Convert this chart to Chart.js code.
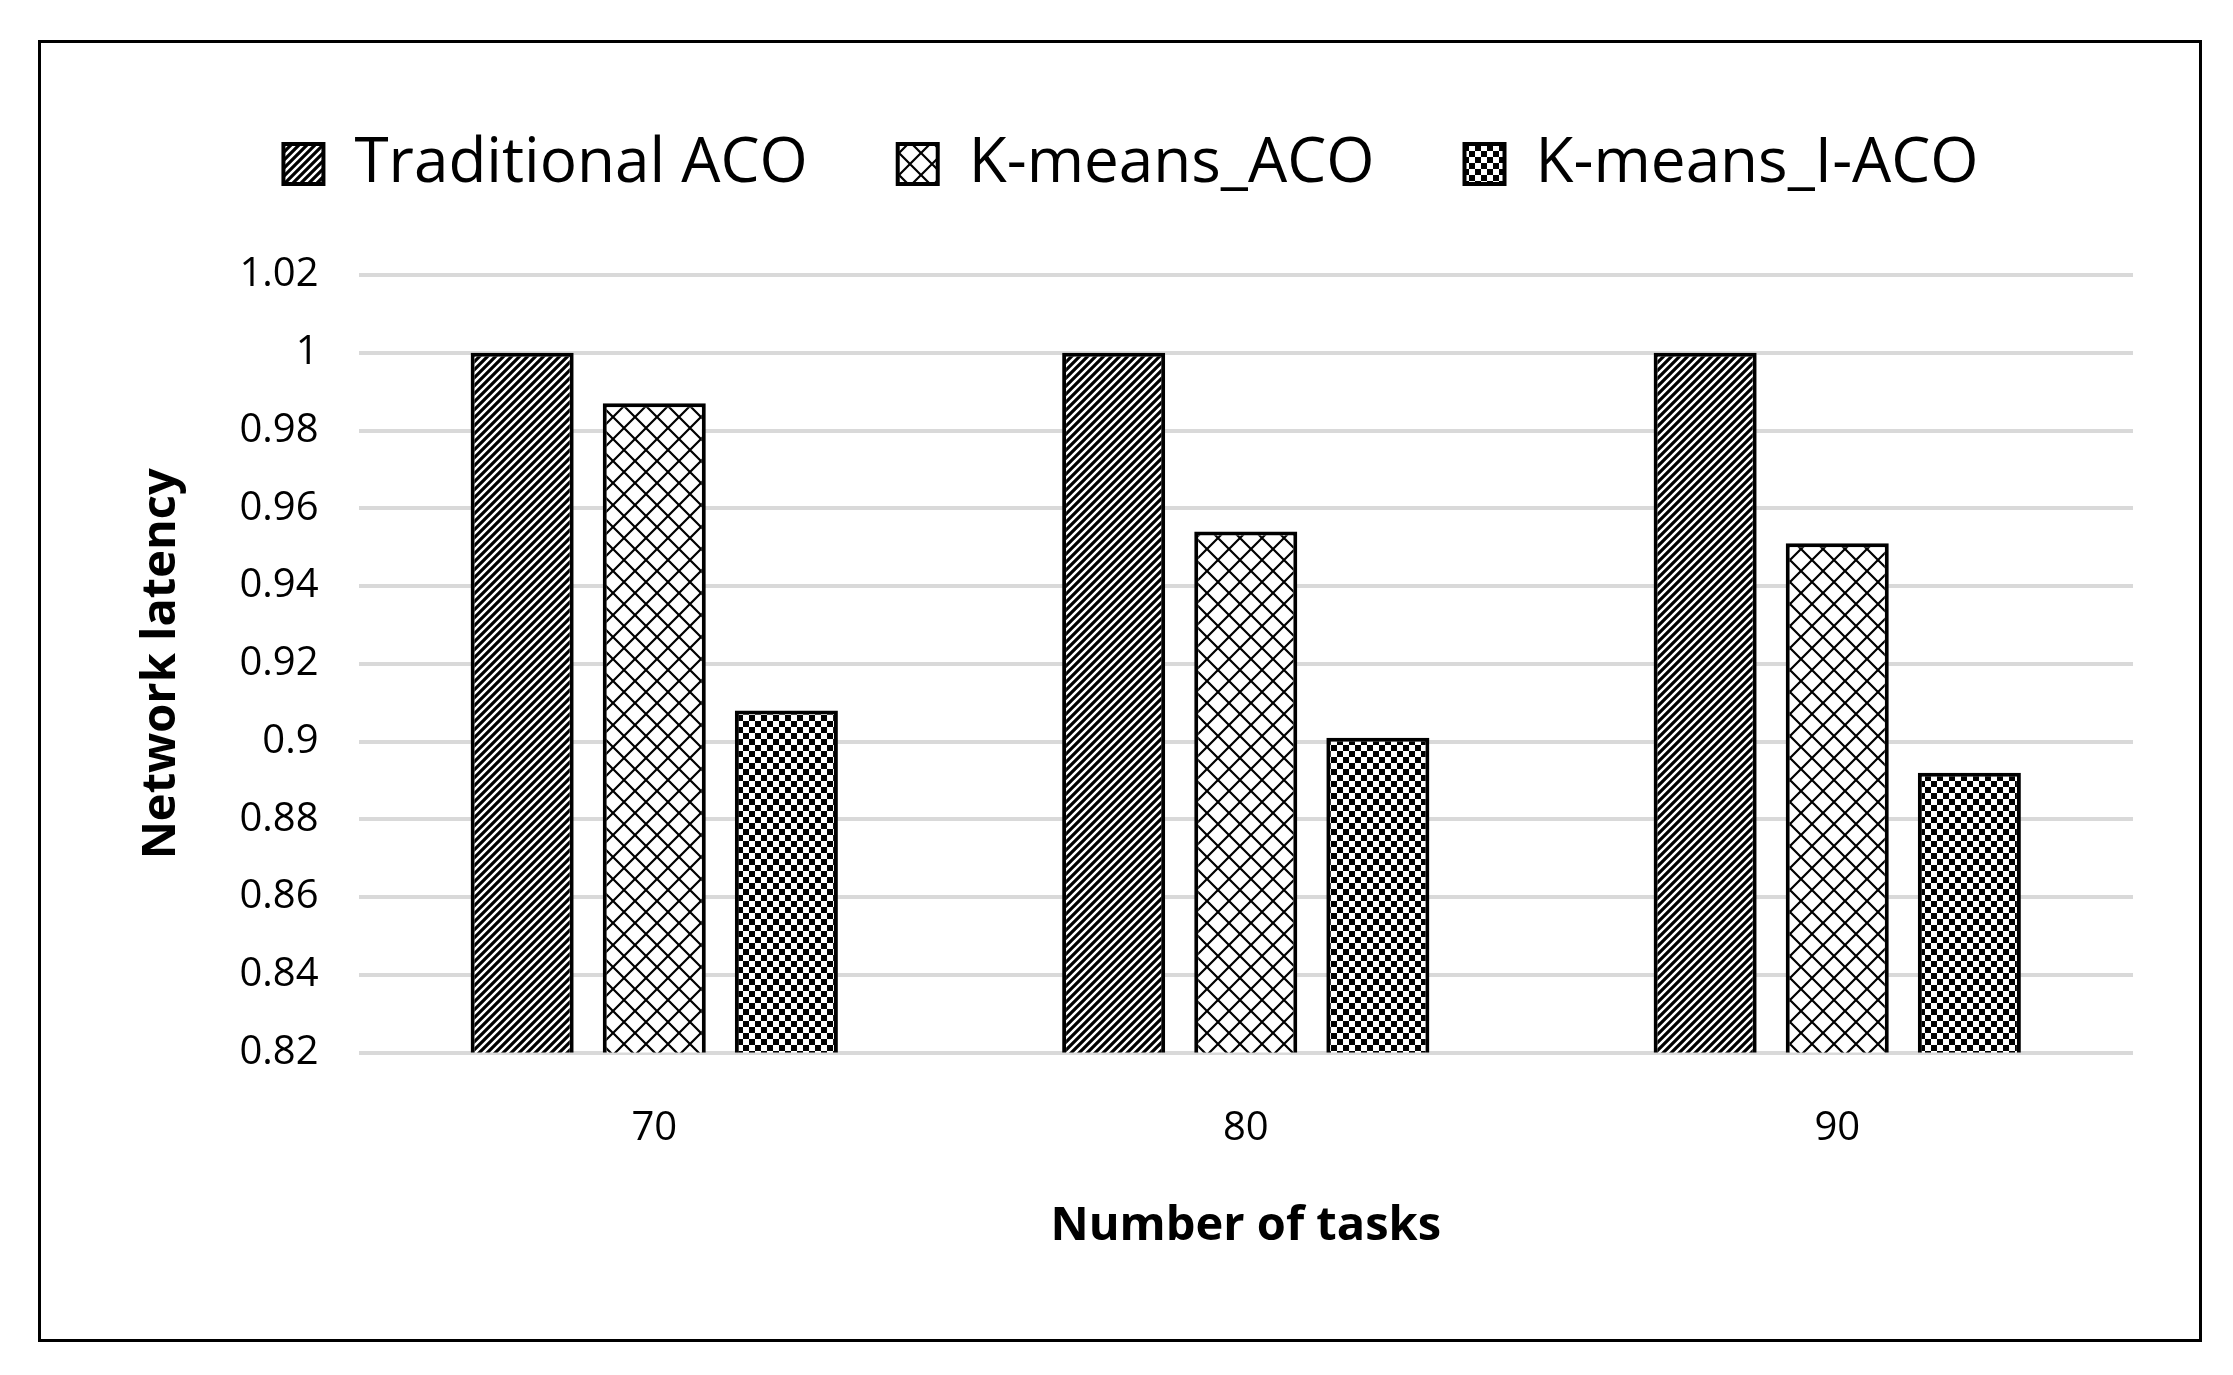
<!DOCTYPE html>
<html>
<head>
<meta charset="utf-8">
<script src="https://cdn.jsdelivr.net/npm/chart.js@4"></script>
<style>
  html, body { margin: 0; background: #fff; width: 2233px; height: 1375px; overflow: hidden; }
  #frame { position: absolute; left: 38px; top: 40px; width: 2158px; height: 1296px; border: 3px solid #000; }
  #chart { width: 2158px; height: 1296px; }
</style>
</head>
<body>
<div id="frame"><canvas id="chart"></canvas></div>
<script>
const categories = ['70', '80', '90'];
const seriesNames = ['Traditional ACO', 'K-means_ACO', 'K-means_I-ACO'];
const traditionalAco = [1.0, 1.0, 1.0];
const kmeansAco = [0.987, 0.954, 0.951];
const kmeansIAco = [0.908, 0.901, 0.892];
const yTicks = [0.82, 0.84, 0.86, 0.88, 0.9, 0.92, 0.94, 0.96, 0.98, 1, 1.02];

function makePattern(kind) {
  const c = document.createElement('canvas');
  const ctx = c.getContext('2d');
  if (kind === 'stripe') {
    const s = 8;
    c.width = s; c.height = s;
    ctx.fillStyle = '#fff'; ctx.fillRect(0, 0, s, s);
    ctx.strokeStyle = '#000'; ctx.lineWidth = 3.2;
    ctx.beginPath();
    ctx.moveTo(-2, s + 2); ctx.lineTo(s + 2, -2);
    ctx.moveTo(-2, 2); ctx.lineTo(2, -2);
    ctx.moveTo(s - 2, s + 2); ctx.lineTo(s + 2, s - 2);
    ctx.stroke();
  } else if (kind === 'cross') {
    const s = 22;
    c.width = s; c.height = s;
    ctx.fillStyle = '#fff'; ctx.fillRect(0, 0, s, s);
    ctx.strokeStyle = '#000'; ctx.lineWidth = 2.2;
    ctx.beginPath();
    ctx.moveTo(0, 0); ctx.lineTo(s, s);
    ctx.moveTo(s, 0); ctx.lineTo(0, s);
    ctx.stroke();
  } else {
    const s = 12;
    c.width = s; c.height = s;
    ctx.fillStyle = '#fff'; ctx.fillRect(0, 0, s, s);
    ctx.fillStyle = '#000';
    ctx.fillRect(0, 0, s / 2, s / 2);
    ctx.fillRect(s / 2, s / 2, s / 2, s / 2);
  }
  return ctx.createPattern(c, 'repeat');
}

const fills = [makePattern('stripe'), makePattern('cross'), makePattern('check')];
const values = [traditionalAco, kmeansAco, kmeansIAco];

const font = "'Open Sans', 'Liberation Sans', sans-serif";

const legendSpacer = {
  id: 'legendSpacer',
  beforeInit(chart) {
    const origFit = chart.legend.fit;
    chart.legend.fit = function () {
      origFit.bind(chart.legend)();
      this.height += 70;
    };
  }
};

new Chart(document.getElementById('chart').getContext('2d'), {
  type: 'bar',
  data: {
    labels: categories,
    datasets: seriesNames.map((name, i) => ({
      label: name,
      data: values[i],
      backgroundColor: fills[i],
      borderColor: '#000',
      borderWidth: 4,
      borderSkipped: false,
      categoryPercentage: 0.67,
      barPercentage: 0.78
    }))
  },
  plugins: [legendSpacer],
  options: {
    responsive: true,
    maintainAspectRatio: false,
    animation: false,
    layout: { padding: { left: 88, right: 66, top: 0, bottom: 80 } },
    plugins: {
      legend: {
        position: 'top',
        labels: {
          color: '#000',
          font: { family: font, size: 62 },
          boxWidth: 40,
          boxHeight: 40,
          padding: 90
        }
      },
      tooltip: { enabled: false }
    },
    scales: {
      x: {
        grid: { display: false },
        border: { display: false },
        ticks: { color: '#000', font: { family: font, size: 40 }, padding: 44 },
        title: { display: true, text: 'Number of tasks', color: '#000', font: { family: font, size: 47, weight: 'bold' }, padding: { top: 2 } }
      },
      y: {
        min: 0.82,
        max: 1.02,
        afterBuildTicks: (axis) => { axis.ticks = yTicks.map((v) => ({ value: v })); },
        grid: { color: '#d9d9d9', lineWidth: 4, drawTicks: false },
        border: { display: false },
        ticks: { color: '#000', font: { family: font, size: 40 }, padding: 40, callback: (v) => String(Math.round(v * 100) / 100) },
        title: { display: true, text: 'Network latency', color: '#000', font: { family: font, size: 47, weight: 'bold' }, padding: { bottom: 10 } }
      }
    }
  }
});
</script>
</body>
</html>
